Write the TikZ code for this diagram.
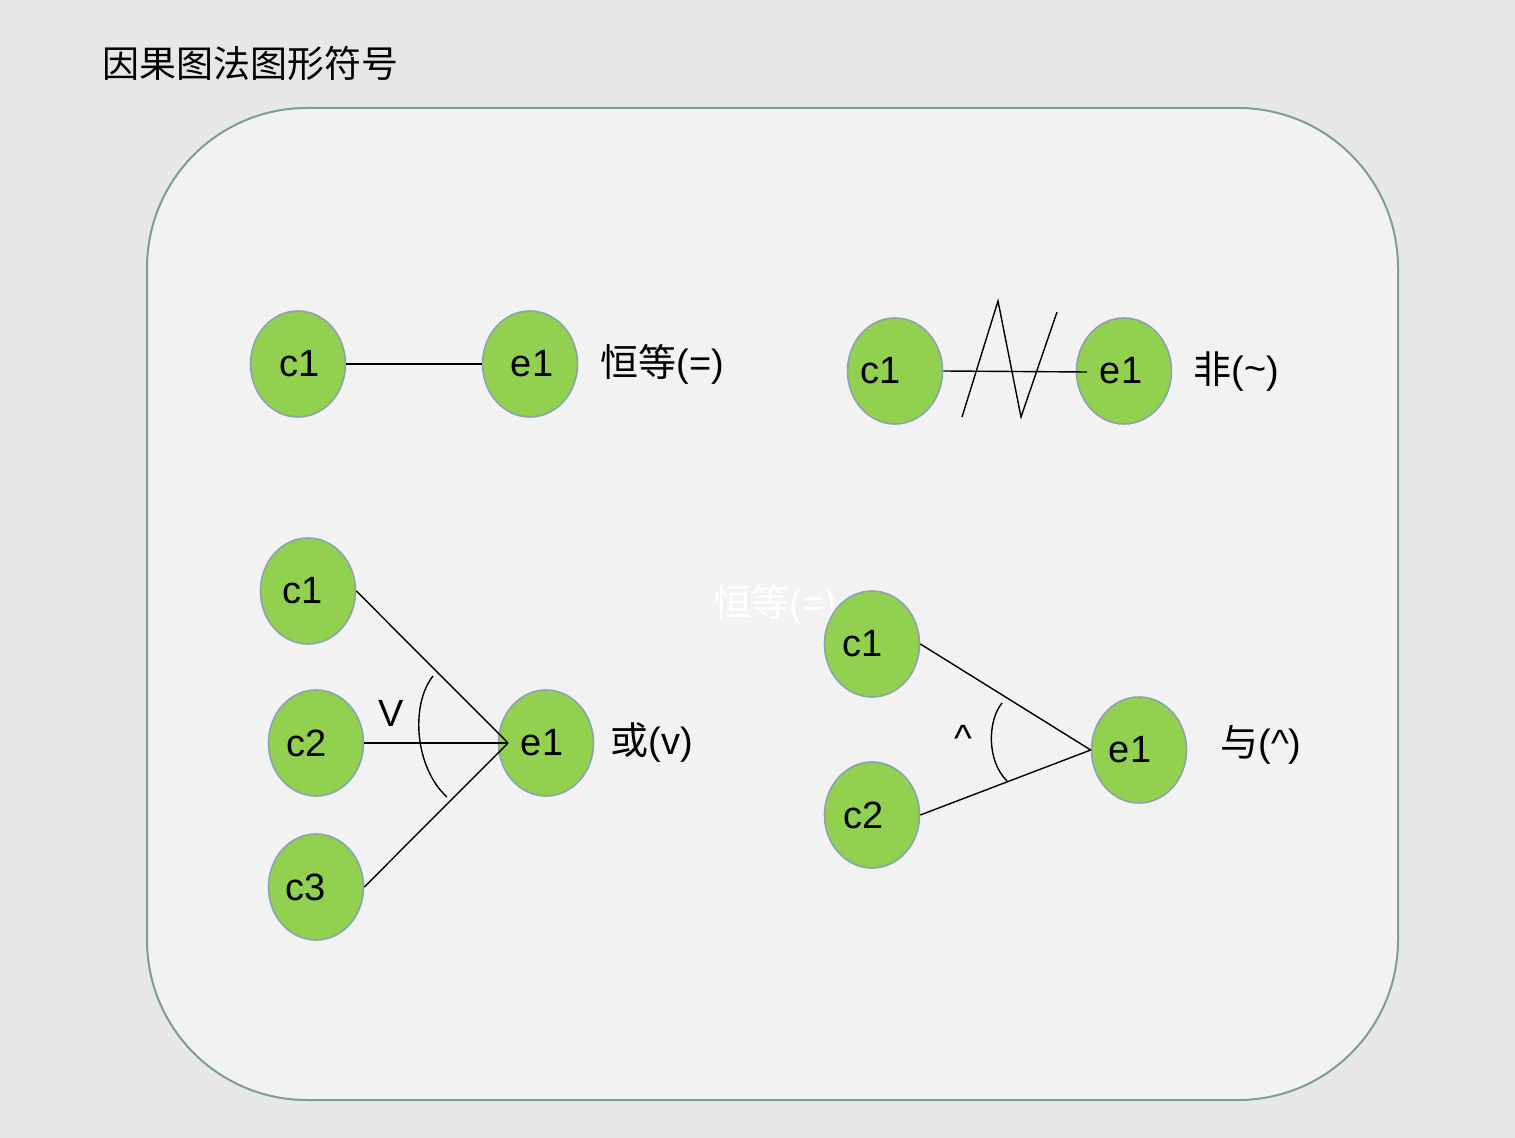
\documentclass[tikz,border=0pt]{standalone}
\usepackage{fontspec}
\setmainfont{Liberation Sans}
\newfontfamily\cjk{Noto Sans CJK SC}
\usetikzlibrary{shapes.geometric}
\definecolor{bgpaper}{HTML}{E7E7E7}
\definecolor{boxfill}{HTML}{F2F2F2}
\definecolor{boxline}{HTML}{7E9CA0}
\definecolor{nodegreen}{HTML}{92D050}
\definecolor{nodeline}{HTML}{8BA3AE}
\newcommand\shiftedtext[2]{\makebox[0pt]{#2\hspace{#1pt}}}
\tikzset{
  gnode/.style={ellipse, fill=nodegreen, draw=nodeline, line width=0.8pt,
    minimum width=47.5pt, minimum height=53pt, inner sep=0pt,
    font=\fontsize{19}{22}\selectfont},
  lbl/.style={anchor=west, inner sep=0pt, font=\fontsize{19}{22}\selectfont},
  conn/.style={line width=0.7pt, black},
}
\begin{document}
\begin{tikzpicture}[x=0.5pt, y=-0.5pt]
\useasboundingbox (0,0) rectangle (1515,1138);
\fill[bgpaper] (0,0) rectangle (1515,1138);
\draw[boxline, fill=boxfill, line width=1pt, rounded corners=80pt] (147,108) rectangle (1398,1100);
\node[anchor=west, inner sep=0pt, font=\cjk\fontsize{18.5}{22}\selectfont] (title) at (102,64) {因果图法图形符号};

% faint text
\node[lbl, white] (ghost) at (713,604) {{\cjk 恒等}(=)};

% identity
\node[gnode] (ic) at (298,364) {\shiftedtext{-2}{c1}};
\node[gnode] (ie) at (530,364) {\shiftedtext{-2}{e1}};
\draw[conn] (ic) -- (ie);
\node[lbl] (il) at (600,364) {{\cjk 恒等}(=)};

% not
\node[gnode] (nc) at (895,371) {\shiftedtext{14}{c1}};
\node[gnode] (ne) at (1124,371) {\shiftedtext{3}{e1}};
\coordinate (nend) at (1087,372);
\draw[conn] (nc.east) -- (nend);
\coordinate (z1) at (962,417);
\coordinate (z2) at (998,301);
\coordinate (z3) at (1021,417);
\coordinate (z4) at (1057,312);
\draw[conn] (z1) -- (z2) -- (z3) -- (z4);
\node[lbl] (nl) at (1193,372) {{\cjk 非}(\raisebox{0.1ex}{\textasciitilde})};

% or
\node[gnode] (oc1) at (308,591) {\shiftedtext{5}{c1}};
\node[gnode] (oc2) at (316,743) {\shiftedtext{9}{c2}};
\node[gnode] (oc3) at (316,887) {\shiftedtext{10}{c3}};
\node[gnode] (oe) at (546,743) {\shiftedtext{4}{e1}};
\coordinate (otip) at (508,743);
\draw[conn] (oc1.east) -- (otip);
\draw[conn] (oc2.east) -- (otip);
\draw[conn] (oc3.east) -- (otip);
\coordinate (oa1) at (433,676);
\coordinate (oa2) at (447,797);
\draw[conn] (oa1) .. controls (410,705) and (415,768) .. (oa2);
\node[inner sep=0pt, font=\fontsize{19}{22}\selectfont] (ov) at (391,713) {V};
\node[lbl] (ol) at (610,743) {{\cjk 或}(v)};

% and
\node[gnode] (ac1) at (872,644) {\shiftedtext{9}{c1}};
\node[gnode] (ac2) at (872,815) {\shiftedtext{8}{c2}};
\node[gnode] (ae) at (1139,750) {\shiftedtext{9}{e1}};
\draw[conn] (ac1.east) -- (ae.west);
\draw[conn] (ac2.east) -- (ae.west);
\coordinate (aa1) at (1002,703);
\coordinate (aa2) at (1007,781);
\draw[conn] (aa1) .. controls (988,720) and (986,760) .. (aa2);
\node[inner sep=0pt, font=\fontsize{19}{22}\selectfont] (av) at (963,738) {\textasciicircum};
\node[lbl] (al) at (1220,745) {{\cjk 与}(\textasciicircum)};
\end{tikzpicture}
\end{document}
